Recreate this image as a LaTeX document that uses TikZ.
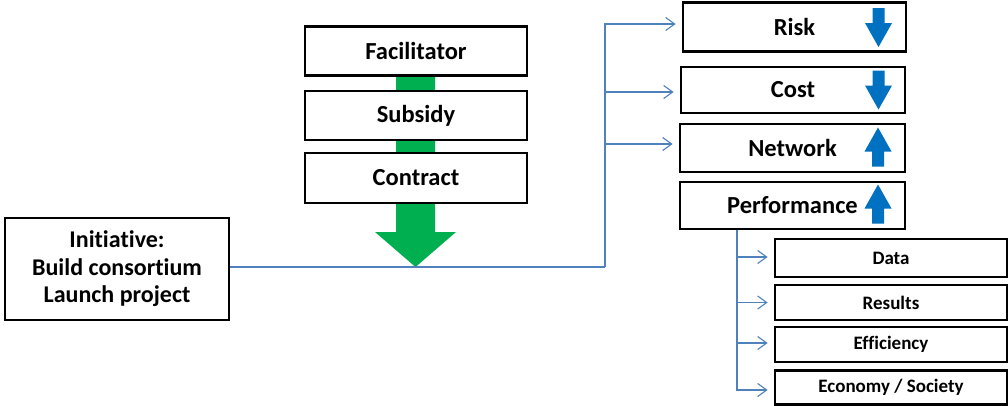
\documentclass[tikz,border=0pt]{standalone}
\usepackage{fontspec}
\setmainfont{Carlito}[Ligatures=NoCommon]
\usetikzlibrary{arrows.meta}
\definecolor{flowgreen}{RGB}{0,176,80}
\definecolor{linkblue}{RGB}{79,129,189}
\definecolor{trendblue}{RGB}{0,112,192}
\begin{document}
\begin{tikzpicture}[x=1pt,y=-1pt,
  box/.style={draw=black,line width=2.8pt,fill=white,inner sep=0pt,
    font=\bfseries\fontsize{24.5}{28}\selectfont},
  subbox/.style={box,font=\bfseries\fontsize{19}{22}\selectfont},
  conn/.style={draw=linkblue,line width=1.1pt,
    -{Straight Barb[length=9pt,width=13pt,line width=1.1pt]},shorten >=6pt},
  plain/.style={draw=linkblue,line width=1.1pt},
  downarr/.pic={\fill[trendblue] (-6,-19.5) -- (6,-19.5) -- (6,-4.5) -- (13.5,-4.5)
     -- (0,19.5) -- (-13.5,-4.5) -- (-6,-4.5) -- cycle;},
  uparr/.pic={\fill[trendblue] (-6,19.5) -- (6,19.5) -- (6,4.5) -- (13.5,4.5)
     -- (0,-19.5) -- (-13.5,4.5) -- (-6,4.5) -- cycle;}]
\useasboundingbox (0,0) rectangle (1008,405);

% green flow arrow behind the stacked boxes
\fill[flowgreen] (396,76) -- (435,76) -- (435,232) -- (456,232) -- (415.5,267)
  -- (375,232) -- (396,232) -- cycle;

% instruments
\node[box,minimum width=222pt,minimum height=49pt] (fac) at (416,51) {Facilitator};
\node[box,minimum width=222pt,minimum height=49pt] (sub) at (416,115.5) {Subsidy};
\node[box,minimum width=222pt,minimum height=50pt] (con) at (416,178) {Contract};

% starting point
\node[box,minimum width=224pt,minimum height=102pt,align=center,
  font=\bfseries\fontsize{24}{27.5}\selectfont] (init) at (117,269)
  {Initiative:\\Build consortium\\Launch project};

% effects
\node[box,minimum width=223pt,minimum height=49pt] (risk) at (794.5,27) {Risk};
\node[box,minimum width=224pt,minimum height=46pt] (cost) at (793,90) {Cost};
\node[box,minimum width=225pt,minimum height=48pt] (net) at (792.5,148) {Network};
\node[box,minimum width=225pt,minimum height=47pt] (perf) at (792.5,205.5) {Performance};

\pic at (878.5,27.5) {downarr};
\pic at (878.5,90) {downarr};
\pic at (878,147) {uparr};
\pic at (878,204) {uparr};

% performance aspects
\node[subbox,minimum width=232pt,minimum height=38pt] (data) at (891,258) {Data};
\node[subbox,minimum width=232pt,minimum height=35pt] (res) at (891,302.5) {Results};
\node[subbox,minimum width=232pt,minimum height=35pt] (eff) at (891,344.5) {Efficiency};
\node[subbox,minimum width=232pt,minimum height=34pt] (eco) at (891,387.5) {Economy / Society};

% connectors
\coordinate (split) at (605,267);
\coordinate (ptap) at (737,229.5);
\draw[plain] (init.east |- split) -- (split);
\draw[conn] (split) |- ([yshift=3pt]risk.west);
\draw[conn] (split) |- ([yshift=-2pt]cost.west);
\draw[conn] (split) |- ([yshift=4pt]net.west);
\draw[conn] (ptap) |- ([yshift=1pt]data.west);
\draw[conn] (ptap) |- (res.west);
\draw[conn] (ptap) |- ([yshift=1.5pt]eff.west);
\draw[conn] (ptap) |- ([yshift=-2.5pt]eco.west);
\end{tikzpicture}
\end{document}
